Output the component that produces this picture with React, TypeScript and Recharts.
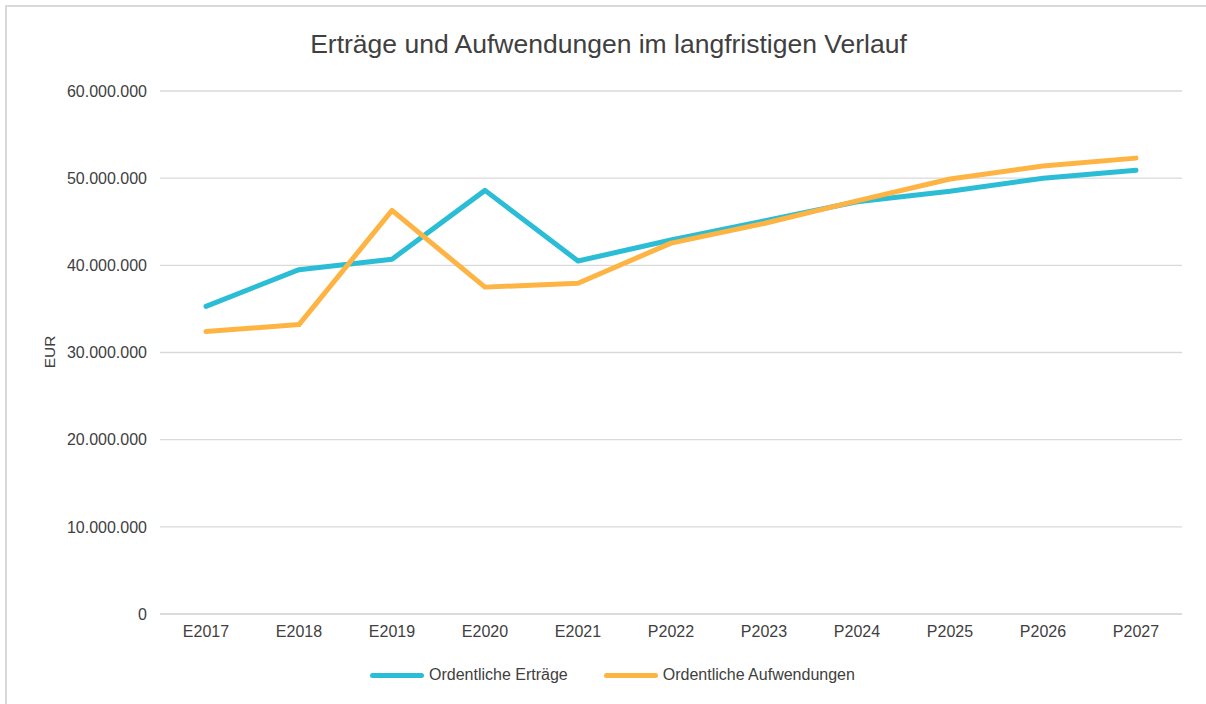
import { LineChart, Line, XAxis, YAxis, CartesianGrid } from 'recharts';

const categories = ['E2017', 'E2018', 'E2019', 'E2020', 'E2021', 'P2022', 'P2023', 'P2024', 'P2025', 'P2026', 'P2027'];
const ertraege = [35300000, 39500000, 40700000, 48600000, 40500000, 42900000, 45100000, 47300000, 48500000, 50000000, 50900000];
const aufwendungen = [32400000, 33200000, 46300000, 37500000, 37950000, 42550000, 44800000, 47400000, 49900000, 51400000, 52300000];
const yTicks = [0, 10000000, 20000000, 30000000, 40000000, 50000000, 60000000];

const series = [
  { key: 'ertraege', name: 'Ordentliche Erträge', color: '#2BBDD5' },
  { key: 'aufwendungen', name: 'Ordentliche Aufwendungen', color: '#FDB443' },
];

const data = categories.map((c, i) => ({ label: c, ertraege: ertraege[i], aufwendungen: aufwendungen[i] }));

const FONT = '"Liberation Sans", Arial, sans-serif';
const TEXT = '#404040';

function fmt(v: number) {
  return String(v).replace(/\B(?=(\d{3})+(?!\d))/g, '.');
}

export default function App() {
  return (
    <div
      style={{
        position: 'fixed',
        left: 0,
        top: 0,
        width: 1206,
        height: 704,
        overflow: 'hidden',
        background: '#fff',
        fontFamily: FONT,
      }}
    >
      {/* chart frame: only the top and left edges fall inside the crop */}
      <div style={{ position: 'absolute', left: 5, top: 5, width: 1201, height: 2, background: '#d9d9d9' }} />
      <div style={{ position: 'absolute', left: 5, top: 5, width: 2, height: 699, background: '#d9d9d9' }} />
      <div
        style={{
          position: 'absolute',
          left: 0,
          top: 28,
          width: 1217,
          textAlign: 'center',
          fontSize: 26.5,
          lineHeight: '32px',
          color: TEXT,
        }}
      >
        Erträge und Aufwendungen im langfristigen Verlauf
      </div>
      <div
        style={{
          position: 'absolute',
          left: 50,
          top: 352,
          transform: 'translate(-50%, -50%) rotate(-90deg)',
          fontSize: 15.5,
          color: TEXT,
          whiteSpace: 'nowrap',
        }}
      >
        EUR
      </div>
      <div style={{ position: 'absolute', left: 0, top: 0 }}>
        <LineChart width={1206} height={704} data={data} margin={{ top: 91, right: 24, bottom: 60, left: 40 }}>
          <CartesianGrid vertical={false} stroke="#d9d9d9" strokeWidth={1.3} />
          <XAxis
            dataKey="label"
            height={30}
            padding={{ left: 46, right: 46 }}
            axisLine={{ stroke: '#d9d9d9', strokeWidth: 1.3 }}
            tickLine={false}
            tickSize={0}
            tickMargin={12}
            tick={{ fontSize: 16, fill: TEXT, fontFamily: FONT }}
            interval={0}
          />
          <YAxis
            width={120}
            domain={[0, 60000000]}
            ticks={yTicks}
            axisLine={false}
            tickLine={false}
            tickSize={0}
            tickMargin={13}
            tickFormatter={fmt}
            tick={{ fontSize: 16, fill: TEXT, fontFamily: FONT }}
          />
          {series.map((s) => (
            <Line
              key={s.key}
              type="linear"
              dataKey={s.key}
              name={s.name}
              stroke={s.color}
              strokeWidth={5}
              strokeLinecap="round"
              strokeLinejoin="round"
              dot={false}
              activeDot={false}
              isAnimationActive={false}
            />
          ))}
        </LineChart>
      </div>
      <div
        style={{
          position: 'absolute',
          left: 370,
          top: 664,
          display: 'flex',
          alignItems: 'center',
          fontSize: 16,
          color: TEXT,
          lineHeight: '22px',
        }}
      >
        {series.map((s, i) => (
          <div key={s.key} style={{ display: 'flex', alignItems: 'center', marginLeft: i === 0 ? 0 : 36 }}>
            <span
              style={{
                display: 'inline-block',
                width: 54,
                height: 5,
                borderRadius: 3,
                background: s.color,
                marginRight: 5,
              }}
            />
            <span>{s.name}</span>
          </div>
        ))}
      </div>
    </div>
  );
}
